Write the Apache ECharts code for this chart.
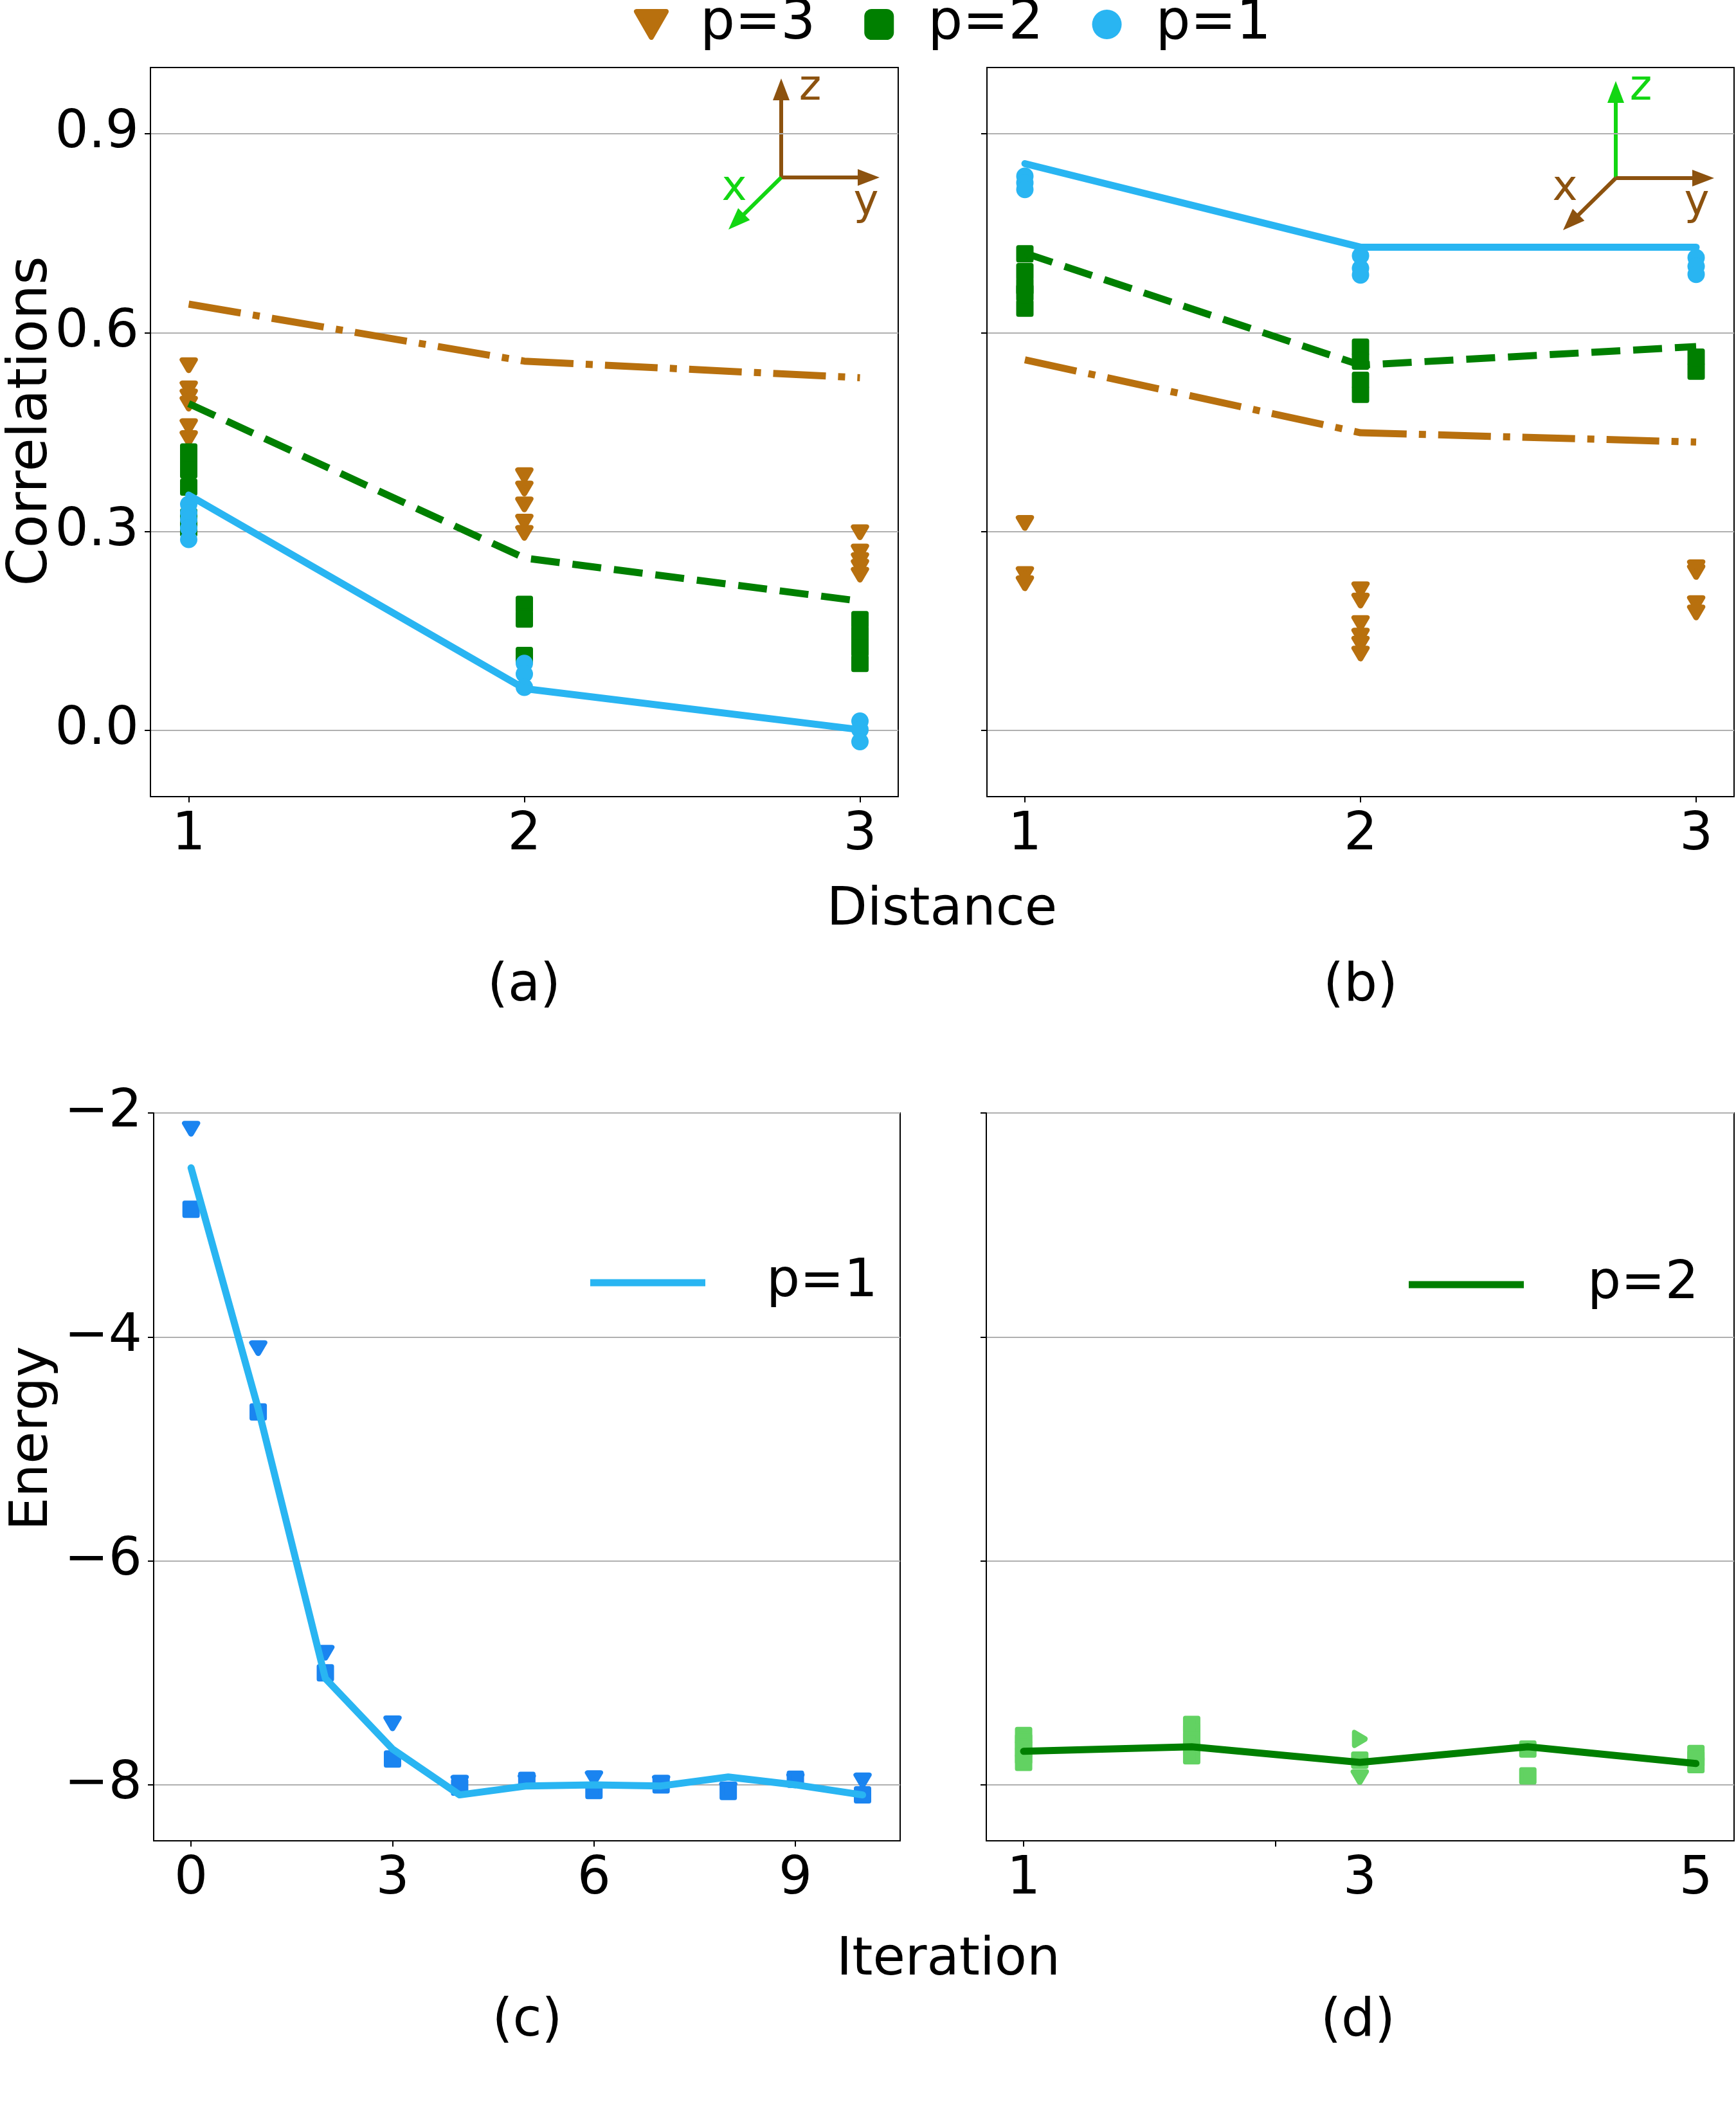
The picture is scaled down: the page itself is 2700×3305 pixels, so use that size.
<!DOCTYPE html>
<html>
<head>
<meta charset="utf-8">
<title>Correlations and energy</title>
<script src="https://cdn.jsdelivr.net/npm/echarts@6/dist/echarts.min.js"></script>
<style>
html,body{margin:0;padding:0;background:#fff;}
#chart{width:2700px;height:3305px;}
</style>
</head>
<body>
<div id="chart"></div>
<script>
// x values
var distances = [1, 2, 3];
var iterC = [0, 1, 2, 3, 4, 5, 6, 7, 8, 9, 10];
var iterD = [1, 2, 3, 4, 5];

// (a) mean correlations vs distance
var meanA_p1 = [0.355, 0.063, 0.001];
var meanA_p2 = [0.493, 0.260, 0.195];
var meanA_p3 = [0.643, 0.557, 0.532];
// (a) single runs, one list per distance
var runsA_p3 = [[0.551, 0.516, 0.504, 0.493, 0.459, 0.441], [0.385, 0.365, 0.341, 0.315, 0.298], [0.299, 0.270, 0.257, 0.247, 0.235]];
var runsA_p2 = [[0.420, 0.405, 0.393, 0.367, 0.322, 0.305], [0.190, 0.168, 0.113], [0.167, 0.145, 0.124, 0.101]];
var runsA_p1 = [[0.341, 0.328, 0.318, 0.305, 0.288], [0.101, 0.085, 0.065], [0.014, 0.001, -0.017]];

// (b) mean correlations vs distance
var meanB_p1 = [0.855, 0.729, 0.729];
var meanB_p2 = [0.720, 0.551, 0.579];
var meanB_p3 = [0.559, 0.449, 0.435];
var runsB_p3 = [[0.313, 0.236, 0.222], [0.213, 0.196, 0.162, 0.143, 0.131, 0.116], [0.246, 0.239, 0.192, 0.178]];
var runsB_p2 = [[0.719, 0.692, 0.670, 0.660, 0.637], [0.578, 0.557, 0.528, 0.507], [0.563, 0.542]];
var runsB_p1 = [[0.836, 0.826, 0.816], [0.716, 0.697, 0.687], [0.713, 0.700, 0.688]];

// (c) energy vs iteration, p=1
var energyC = [-2.49, -4.64, -7.05, -7.68, -8.09, -8.01, -8.00, -8.01, -7.93, -8.00, -8.09];
var runsC_tri = [-2.14, -4.10, -6.82, -7.45, -7.98, -7.97, -7.94, -7.98, -8.04, -7.96, -7.96];
var runsC_sq = [-2.86, -4.67, -7.00, -7.77, -8.02, -7.96, -8.05, -8.00, -8.06, -7.95, -8.09];

// (d) energy vs iteration, p=2
var energyD = [-7.70, -7.66, -7.80, -7.66, -7.81];
var runsD_sq = [[-7.56, -7.62, -7.68, -7.74, -7.80], [-7.46, -7.53, -7.60, -7.67, -7.74], [-7.78], [-7.68, -7.92], [-7.72, -7.77, -7.82]];
var runsD_triR = [[], [], [-7.59], [], []];
var runsD_triD = [[], [], [-7.93], [], []];

var corrTicks = [0, 0.3, 0.6, 0.9];
var energyTicks = [-8, -6, -4, -2];

var ORANGE = '#b8700e', GREEN = '#007f00', BLUE = '#29b5f2',
    BLUE_DK = '#1a84f0', GREEN_LT = '#62d262', BROWN = '#8c520f', LIME = '#12d612';
var FONT = 'DejaVu Sans';
var FS = 82;
var TRI_DOWN = 'path://M0,0L10,0L5,8.66Z';
var TRI_RIGHT = 'path://M0,0L8.66,5L0,10Z';

function spread(xs, groups){
	var out = [];
	groups.forEach(function(g, i){
		g.forEach(function(v){ out.push([xs[i], v]); });
	});
	return out;
}
function pairs(xs, ys){
	return ys.map(function(v, i){ return [xs[i], v]; });
}
function minusFmt(v){
	return v < 0 ? '\u2212' + Math.abs(v) : String(v);
}

function xAxis(gi, min, max, ticks, labels){
	return {
		type: 'value', gridIndex: gi, min: min, max: max,
		axisLine: {show: true, onZero: false, lineStyle: {color: '#000', width: 2}},
		axisTick: {show: true, length: 9, lineStyle: {color: '#000', width: 2}, customValues: ticks},
		axisLabel: {show: true, customValues: labels, margin: 20, color: '#000', fontSize: FS, fontFamily: FONT},
		splitLine: {show: false}
	};
}
function yAxis(gi, min, max, ticks, showLabels, fmt){
	return {
		type: 'value', gridIndex: gi, min: min, max: max,
		axisLine: {show: true, onZero: false, lineStyle: {color: '#000', width: 2}},
		axisTick: {show: true, length: 9, lineStyle: {color: '#000', width: 2}, customValues: ticks},
		axisLabel: {show: showLabels, customValues: ticks, margin: 18, color: '#000', fontSize: FS, fontFamily: FONT, formatter: fmt},
		splitLine: {show: true, lineStyle: {color: '#b0b0b0', width: 2}}
	};
}

function scatter(name, gi, data, symbol, size, color, border){
	return {
		name: name, type: 'scatter', xAxisIndex: gi, yAxisIndex: gi,
		symbol: symbol, symbolSize: size, data: data, silent: true,
		itemStyle: {color: color, opacity: 1, borderColor: color, borderWidth: border, borderJoin: 'round'}
	};
}
function line(name, gi, data, color, dash){
	return {
		name: name, type: 'line', xAxisIndex: gi, yAxisIndex: gi,
		data: data, symbol: 'none', silent: true,
		lineStyle: {color: color, width: 11, type: dash || 'solid', cap: dash ? 'butt' : 'round', join: 'round'}
	};
}

function arrow(x0, y0, x1, y1, color){
	var dx = x1 - x0, dy = y1 - y0, len = Math.sqrt(dx*dx + dy*dy);
	var ux = dx/len, uy = dy/len, hl = 34, hw = 13;
	var bx = x1 - ux*hl, by = y1 - uy*hl;
	return [
		{type: 'line', shape: {x1: x0, y1: y0, x2: bx + ux*3, y2: by + uy*3}, style: {stroke: color, lineWidth: 6}},
		{type: 'polygon', shape: {points: [[x1, y1], [bx - uy*hw, by + ux*hw], [bx + uy*hw, by - ux*hw]]}, style: {fill: color}}
	];
}
function label(text, x, y, size, color, rot){
	return {
		type: 'text', x: x, y: y, rotation: rot || 0,
		style: {text: text, fill: color || '#000', fontSize: size, fontFamily: FONT, align: 'center', verticalAlign: 'middle'}
	};
}

var dashP2 = [45, 20];
var dashP3 = [82, 19, 11, 19];

var graphics = []
	.concat(arrow(1215, 276, 1215, 122, BROWN))
	.concat(arrow(1215, 276, 1368, 276, BROWN))
	.concat(arrow(1215, 276, 1133, 357, LIME))
	.concat([label('z', 1260, 138, 66, BROWN), label('y', 1347, 316, 66, BROWN), label('x', 1142, 294, 66, LIME)])
	.concat(arrow(2513, 277, 2513, 126, LIME))
	.concat(arrow(2513, 277, 2666, 277, BROWN))
	.concat(arrow(2513, 277, 2431, 358, BROWN))
	.concat([label('z', 2552, 138, 66, LIME), label('y', 2639, 316, 66, BROWN), label('x', 2434, 294, 66, BROWN)])
	.concat([
		label('Correlations', 50, 655, 85, '#000', Math.PI/2),
		label('Energy', 52, 2237, FS, '#000', Math.PI/2),
		label('Distance', 1465, 1417, FS),
		label('(a)', 815, 1535, FS),
		label('(b)', 2116, 1535, FS),
		label('Iteration', 1475, 3050, FS),
		label('(c)', 820, 3145, FS),
		label('(d)', 2112, 3145, FS)
	]);

var chart = echarts.init(document.getElementById('chart'), null, {renderer: 'canvas'});
var option = {
	backgroundColor: '#fff',
	animation: false,
	textStyle: {fontFamily: FONT},
	grid: [
		{left: 234, top: 105, width: 1163, height: 1134, show: true, borderColor: '#000', borderWidth: 2, outerBoundsMode: 'none'},
		{left: 1535, top: 105, width: 1162, height: 1134, show: true, borderColor: '#000', borderWidth: 2, outerBoundsMode: 'none'},
		{left: 239, top: 1731, width: 1161, height: 1132, show: true, borderColor: '#000', borderWidth: 2, outerBoundsMode: 'none'},
		{left: 1534, top: 1731, width: 1163, height: 1132, show: true, borderColor: '#000', borderWidth: 2, outerBoundsMode: 'none'}
	],
	xAxis: [
		xAxis(0, 0.886, 3.114, distances, distances),
		xAxis(1, 0.887, 3.113, distances, distances),
		xAxis(2, -0.557, 10.56, [0, 3, 6, 9], [0, 3, 6, 9]),
		xAxis(3, 0.778, 5.227, [1, 2.5], [1, 3, 5])
	],
	yAxis: [
		yAxis(0, -0.1, 1.0, corrTicks, true, function(v){ return v.toFixed(1); }),
		yAxis(1, -0.1, 1.0, corrTicks, false),
		yAxis(2, -8.5, -2, energyTicks, true, minusFmt),
		yAxis(3, -8.5, -2, energyTicks, false)
	],
	legend: [
		{
			left: 986, top: -5, padding: 0, itemGap: 76, itemWidth: 46, itemHeight: 48,
			selectedMode: false,
			textStyle: {fontSize: 85, fontFamily: FONT, color: '#000', lineHeight: 86, padding: [0, 0, 0, 48]},
			data: [
				{name: 'p=3', icon: TRI_DOWN, itemStyle: {color: ORANGE, borderColor: ORANGE, borderWidth: 8, borderJoin: 'round'}},
				{name: 'p=2', icon: 'roundRect', itemStyle: {color: GREEN, borderWidth: 0}},
				{name: 'p=1', icon: 'circle', itemStyle: {color: BLUE, borderWidth: 0}}
			]
		},
		{
			left: 918, top: 1952, padding: 0, itemWidth: 179, itemHeight: 11, selectedMode: false,
			textStyle: {fontSize: FS, fontFamily: FONT, color: '#000', lineHeight: 86, padding: [0, 0, 0, 90]},
			data: [{name: 'p=1', icon: 'rect', itemStyle: {color: BLUE, borderWidth: 0}}]
		},
		{
			left: 2191, top: 1955, padding: 0, itemWidth: 179, itemHeight: 11, selectedMode: false,
			textStyle: {fontSize: FS, fontFamily: FONT, color: '#000', lineHeight: 86, padding: [0, 0, 0, 94]},
			data: [{name: 'p=2', icon: 'rect', itemStyle: {color: GREEN, borderWidth: 0}}]
		}
	],
	series: [
		// (a)
		scatter('p=3', 0, spread(distances, runsA_p3), TRI_DOWN, [20, 17], ORANGE, 8),
		scatter('p=2', 0, spread(distances, runsA_p2), 'rect', 20, GREEN, 7),
		scatter('p=1', 0, spread(distances, runsA_p1), 'circle', 27, BLUE, 0),
		line('p=1', 0, pairs(distances, meanA_p1), BLUE),
		line('p=2', 0, pairs(distances, meanA_p2), GREEN, dashP2),
		line('p=3', 0, pairs(distances, meanA_p3), ORANGE, dashP3),
		// (b)
		scatter('p=3', 1, spread(distances, runsB_p3), TRI_DOWN, [20, 17], ORANGE, 8),
		scatter('p=2', 1, spread(distances, runsB_p2), 'rect', 20, GREEN, 7),
		scatter('p=1', 1, spread(distances, runsB_p1), 'circle', 27, BLUE, 0),
		line('p=1', 1, pairs(distances, meanB_p1), BLUE),
		line('p=2', 1, pairs(distances, meanB_p2), GREEN, dashP2),
		line('p=3', 1, pairs(distances, meanB_p3), ORANGE, dashP3),
		// (c)
		scatter('runs p=1 a', 2, pairs(iterC, runsC_tri), TRI_DOWN, [20, 17], BLUE_DK, 8),
		scatter('runs p=1 b', 2, pairs(iterC, runsC_sq), 'rect', 20, BLUE_DK, 7),
		line('p=1', 2, pairs(iterC, energyC), BLUE),
		// (d)
		scatter('runs p=2 a', 3, spread(iterD, runsD_sq), 'rect', 20, GREEN_LT, 7),
		scatter('runs p=2 b', 3, spread(iterD, runsD_triR), TRI_RIGHT, [17, 20], GREEN_LT, 8),
		scatter('runs p=2 c', 3, spread(iterD, runsD_triD), TRI_DOWN, [20, 17], GREEN_LT, 8),
		line('p=2', 3, pairs(iterD, energyD), GREEN)
	],
	graphic: graphics
};
chart.setOption(option);
</script>
</body>
</html>
